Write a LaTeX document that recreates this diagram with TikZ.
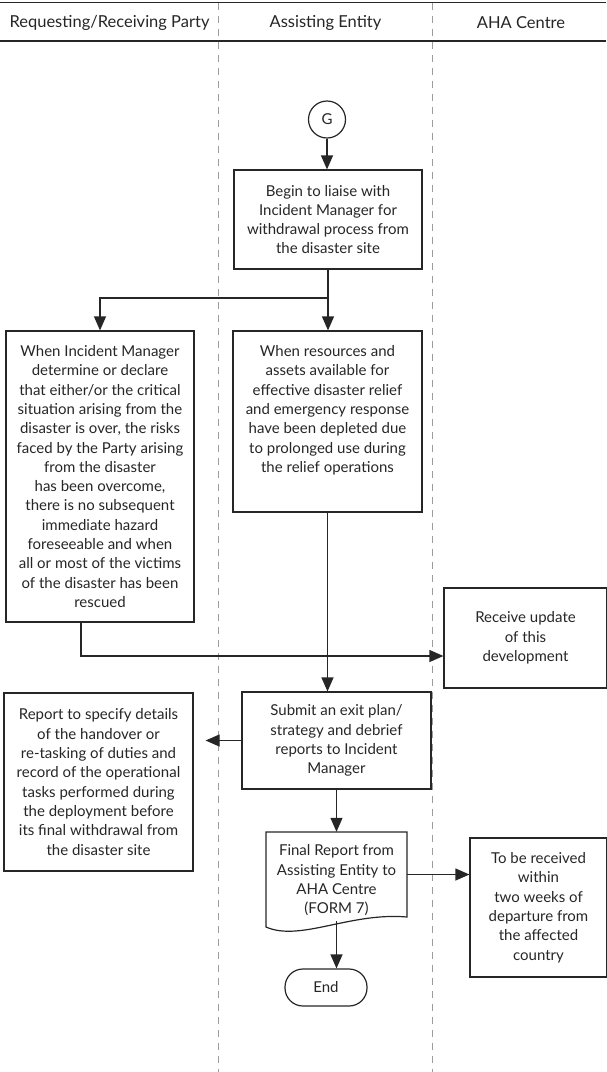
\documentclass[tikz,border=0pt]{standalone}
\usepackage{fontspec}
\setmainfont{Lato}
\usetikzlibrary{arrows.meta}
\definecolor{ink}{HTML}{262626}
\definecolor{lanegray}{HTML}{9C9C9C}
\begin{document}
\begin{tikzpicture}[x=1pt,y=-1pt,
  every node/.style={font=\fontsize{15}{19.3}\selectfont, text=ink},
  box/.style={draw=ink, line width=1.2pt, align=center, inner sep=0pt},
  flow/.style={draw=ink, line width=1.2pt, -{Triangle[length=14pt,width=12pt]}},
  link/.style={draw=ink, line width=1.2pt},
  laneline/.style={draw=lanegray, line width=0.9pt, dash pattern=on 7pt off 6pt},
  lanehead/.style={font=\fontsize{16.5}{20}\selectfont}]

\useasboundingbox (0,0) rectangle (606,1072);

% swimlane header and dividers
\draw[link] (0,2.5) -- (606,2.5);
\draw[link] (0,41) -- (606,41);
\draw[laneline] (218,2.5) -- (218,1072);
\draw[laneline] (432,2.5) -- (432,1072);
\node[lanehead] (h1) at (109.5,23) {Requesting/Receiving Party};
\node[lanehead] (h2) at (325.5,23) {Assisting Entity};
\node[lanehead] (h3) at (521,23) {AHA Centre};

% connector G
\node[draw=ink, line width=1.2pt, circle, minimum size=37pt, inner sep=0pt] (g) at (327,119.5) {G};

% process boxes
\node[box, minimum width=188pt, minimum height=99pt] (liaise) at (328,219.5)
  {Begin to liaise with\\Incident Manager for\\withdrawal process from\\the disaster site};

\node[box, minimum width=188pt, minimum height=291pt] (declare) at (100,476.5)
  {When Incident Manager\\determine or declare\\that either/or the critical\\situation arising from the\\disaster is over, the risks\\faced by the Party arising\\from the disaster\\has been overcome,\\there is no subsequent\\immediate hazard\\foreseeable and when\\all or most of the victims\\of the disaster has been\\rescued};

\node[box, minimum width=189pt, minimum height=181pt] (deplete) at (327.5,421.5)
  {When resources and\\assets available for\\effective disaster relief\\and emergency response\\have been depleted due\\to prolonged use during\\the relief operations\\\strut};

\node[box, minimum width=163pt, minimum height=100pt] (update) at (525.5,638)
  {Receive update\\of this\\development};

\node[box, minimum width=189pt, minimum height=97pt] (submit) at (336.5,740.5)
  {Submit an exit plan/\\strategy and debrief\\reports to Incident\\Manager};

\node[box, minimum width=189pt, minimum height=178pt] (report) at (98.5,782)
  {Report to specify details\\of the handover or\\re-tasking of duties and\\record of the operational\\tasks performed during\\the deployment before\\its final withdrawal from\\the disaster site};

% document shape for the final report
\node[minimum width=141pt, minimum height=85pt, inner sep=0pt] (final) at (336.5,874.5) {};
\draw[link] (266,832) -- (407,832) -- (407,917)
  .. controls (350,912) and (300,942) .. (266,927) -- cycle;
\node[align=center] (finaltext) at (336.5,880.5)
  {Final Report from\\Assisting Entity to\\AHA Centre\\(FORM 7)};

\node[box, minimum width=137pt, minimum height=139pt] (received) at (538.5,907.5)
  {To be received\\within\\two weeks of\\departure from\\the affected\\country};

\node[draw=ink, line width=1.2pt, rounded corners=18pt, minimum width=82pt, minimum height=37pt] (endnode) at (326,987.5) {End};

% connectors
\coordinate (split) at (328,298);
\coordinate (turn) at (81,656);
\draw[flow] (g.south) -- (g.south |- liaise.north);
\draw[link] (liaise.south) -- (split);
\draw[flow] (split) -| (declare.north);
\draw[flow] (split) -- (split |- deplete.north);
\draw[flow] (deplete.south) -- (deplete.south |- submit.north);
\draw[flow] (declare.south -| turn) -- (turn) -- (turn -| update.west);
\draw[flow, shorten >=12pt] (submit.west) -- (submit.west -| report.east);
\draw[flow] (submit.south) -- (submit.south |- final.north);
\draw[flow] (final.east) -- (final.east -| received.west);
\draw[flow, shorten <=4pt] (final.south) -- (final.south |- endnode.north);
\end{tikzpicture}
\end{document}
